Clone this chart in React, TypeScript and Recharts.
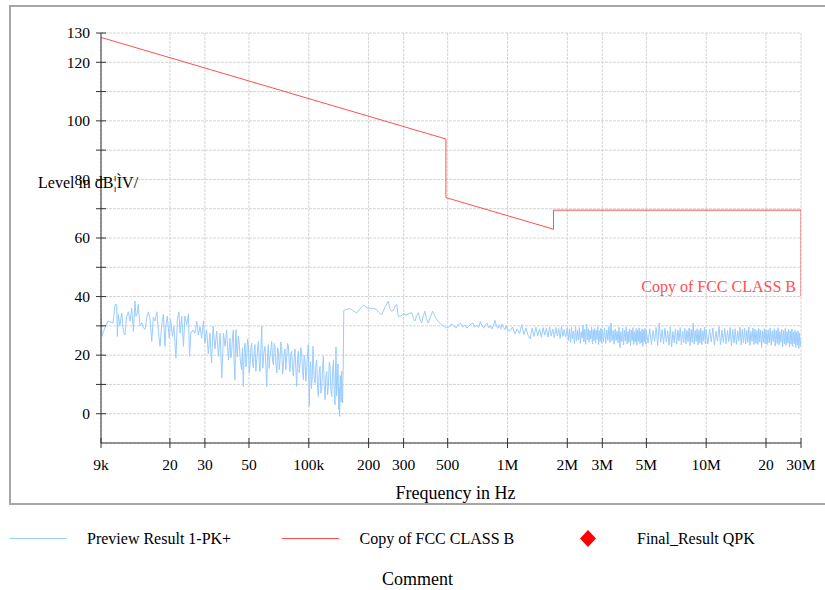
import React from 'react';
import { ComposedChart, Line, XAxis, YAxis, CartesianGrid } from 'recharts';

const FONT = '"Liberation Serif", "Times New Roman", serif';

// x-axis ticks (Hz) and their printed labels
const xTicks = [9e3, 2e4, 3e4, 5e4, 1e5, 2e5, 3e5, 5e5, 1e6, 2e6, 3e6, 5e6, 1e7, 2e7, 3e7];
const xTickLabels = ['9k', '20', '30', '50', '100k', '200', '300', '500', '1M', '2M', '3M', '5M', '10M', '20', '30M'];

// y-axis ticks and which of them carry a label
const yTicks = [0, 10, 20, 30, 40, 50, 60, 70, 80, 90, 100, 110, 120, 130];
const yLabelled = [0, 20, 40, 60, 80, 100, 120, 130];

// Limit line "Copy of FCC CLASS B" (kHz, dBµV)
const limitFreqKHz = [9, 490, 490, 1705, 1705, 30000, 30000];
const limitLevel = [128.5, 93.8, 73.8, 63.0, 69.5, 69.5, 40.0];

// Preview Result 1-PK+ : [kHz, dBµV]
const previewSweepA: [number, number][] = [
  [9.0, 34.4], [9.1, 26.4], [9.43, 29.5], [9.76, 31.6], [10.35, 31.0], [10.59, 37.3], [10.8, 37.3], [10.88, 26.4],
  [11.0, 34.0], [11.2, 30.0], [11.45, 34.4], [11.65, 28.1], [11.88, 26.9], [12.1, 33.0], [12.35, 34.8], [12.6, 31.6],
  [12.85, 36.0], [13.1, 28.1], [13.34, 38.5], [13.5, 33.3], [13.7, 34.4], [13.85, 37.3], [14.15, 30.0], [14.45, 31.1],
  [14.7, 29.3], [15.0, 28.8], [15.3, 33.0], [15.6, 34.8], [15.9, 32.0], [16.2, 24.7], [16.5, 33.0], [16.83, 31.6],
  [17.2, 34.8], [17.5, 28.1], [17.84, 23.0], [18.2, 30.4], [18.55, 34.0], [18.9, 23.0], [19.1, 30.4], [19.4, 33.3],
  [19.85, 25.8], [20.15, 32.2], [20.6, 26.4], [20.95, 29.8], [21.45, 19.0], [21.8, 32.2], [22.2, 34.8], [22.5, 27.5],
  [22.95, 33.3], [23.4, 23.0], [23.8, 33.3], [24.3, 30.4], [24.8, 34.1], [25.1, 19.6], [25.5, 27.5], [26.1, 28.6],
  [26.75, 27.5], [27.3, 31.6], [27.8, 26.9], [28.35, 29.8], [28.9, 25.8], [29.5, 31.7], [30.0, 24.1], [30.6, 28.6],
  [31.2, 20.5], [31.8, 27.5], [32.4, 17.3], [33.0, 29.9], [33.7, 22.1], [34.4, 28.2], [35.1, 19.6], [35.75, 27.5],
  [36.5, 12.2], [37.2, 27.5], [37.9, 23.0], [38.6, 28.6], [39.4, 18.4],
  [40.1, 25.8], [40.5, 19.0], [40.9, 20.6], [41.3, 26.0], [41.7, 28.6], [42.1, 17.5], [42.5, 11.6], [42.75, 24.0],
  [43.0, 28.7], [43.35, 22.0], [43.7, 19.3], [44.15, 26.5], [44.6, 24.5], [45.25, 18.0], [45.9, 15.0], [46.35, 22.5],
  [46.8, 9.3], [47.3, 21.0], [47.8, 24.1], [48.25, 16.0], [48.7, 18.4], [49.2, 25.5], [49.7, 23.0], [50.15, 14.0],
  [50.6, 16.2], [51.1, 22.0], [51.6, 24.1], [52.1, 17.5], [52.6, 15.6], [53.1, 21.5], [53.6, 23.6], [54.15, 14.5],
  [54.7, 18.4], [55.25, 22.5], [55.8, 24.7], [56.3, 17.0], [56.8, 14.4], [57.4, 22.0], [58.0, 29.9], [58.35, 19.0],
  [58.7, 15.6], [59.45, 21.0], [60.2, 23.0], [60.8, 16.5], [61.4, 9.3], [62.0, 20.0], [62.6, 23.6], [63.2, 15.5],
  [63.8, 19.6], [64.45, 22.0], [65.1, 24.7], [65.75, 18.0], [66.4, 16.7], [67.0, 24.0], [67.6, 23.0], [68.3, 17.0],
  [69.0, 13.9], [69.7, 22.5], [70.4, 21.3], [71.0, 15.0], [71.6, 17.8], [72.35, 24.5], [73.1, 23.0], [73.8, 13.5],
  [74.5, 16.2], [75.2, 21.0], [75.9, 22.1], [76.65, 15.0], [77.4, 19.6], [78.2, 24.0], [79.0, 23.1], [79.7, 17.5],
  [80.4, 14.4], [81.2, 20.5], [82.0, 21.3], [82.8, 16.0], [83.6, 12.8], [84.4, 19.0], [85.2, 22.1], [86.05, 15.5],
  [86.9, 9.3], [87.75, 18.5], [88.6, 21.3], [89.45, 14.0], [90.3, 16.7], [91.2, 22.5], [92.1, 20.7], [93.0, 15.0],
  [93.9, 11.6], [94.8, 20.0], [95.7, 18.4], [96.6, 11.0], [97.5, 14.4], [98.45, 20.0], [99.4, 23.6], [100.0, 12.0],
  [100.6, 2.5], [101.4, 15.0], [102.2, 17.8], [103.15, 8.5], [104.1, 12.8], [104.55, 19.0], [105.0, 23.0], [106.25, 13.0],
  [107.5, 10.4], [108.55, 16.5], [109.6, 18.4], [110.65, 9.0], [111.7, 5.9], [112.8, 14.0], [113.9, 16.2], [115.0, 7.0],
  [116.1, 8.2], [117.25, 15.5], [118.4, 19.6], [119.55, 10.0], [120.7, 4.8], [121.9, 12.5], [123.1, 14.4], [124.3, 6.5],
  [125.5, 9.3], [126.7, 17.5], [127.9, 16.7], [129.2, 8.0], [130.5, 5.9], [131.8, 14.5], [133.1, 18.4], [134.3, 7.0],
  [135.5, 3.1], [136.3, 15.0], [137.1, 22.8], [138.1, 6.0], [139.1, 10.4], [140.25, 17.0], [141.4, 1.4], [142.2, 9.0],
  [143.0, -0.9], [143.8, 13.0], [144.6, 11.6], [145.45, 4.0], [146.3, 14.5], [147.15, 8.0], [148.0, 3.7], [148.5, 12.0],
  [149.0, 14.9],
];

const previewSweepB: [number, number][] = [
  [150, 35.3], [155, 35.6], [161, 35.9], [167, 35.2], [174, 34.4], [181, 35.8], [188, 37.1], [196, 36.2],
  [203, 36.0], [212, 36.0], [220, 35.5], [226, 34.5], [233, 33.8], [242, 36.4], [251, 38.4], [256, 36.0],
  [261, 35.0], [266, 35.2], [272, 36.8], [277, 37.3], [282, 33.2], [290, 33.3], [299, 34.0], [311, 33.7],
  [320, 34.2], [330, 34.5], [336, 32.5], [342, 31.6], [349, 33.5], [356, 34.5], [363, 32.0], [370, 31.0],
  [377, 33.5], [384, 35.0], [391, 32.5], [399, 31.0], [409, 33.0], [420, 35.0], [430, 33.5], [440, 32.2],
  [453, 31.0], [467, 30.4], [480, 29.8], [494, 29.3],
];

const previewSweepC: [number, number][] = [
  [505, 29.5], [520, 30.6], [535, 30.2], [550, 29.2], [565, 30.5], [580, 30.9], [595, 29.6], [610, 30.3],
  [625, 29.2], [640, 30.0], [655, 30.6], [670, 31.0], [685, 29.6], [700, 30.2], [715, 29.4], [730, 31.5],
  [745, 30.0], [760, 29.2], [775, 30.5], [790, 30.9], [805, 29.3], [820, 30.0], [835, 28.9], [850, 30.2],
  [865, 31.9], [880, 29.8], [895, 29.2], [910, 30.4], [925, 29.0], [940, 30.6], [955, 29.5], [970, 28.7],
  [985, 30.0], [1000, 28.7],
  [1030, 28.2], [1060, 29.6], [1090, 27.2], [1120, 29.0], [1150, 27.4], [1180, 30.4], [1210, 27.0], [1240, 29.3],
  [1270, 26.8], [1300, 25.5], [1330, 29.2], [1360, 26.4], [1390, 29.5], [1420, 26.6], [1450, 29.0], [1480, 26.1],
  [1510, 29.4], [1540, 26.8], [1570, 29.2], [1600, 26.2], [1630, 29.6], [1660, 26.5], [1690, 28.9], [1720, 26.0],
  [1750, 29.4], [1780, 26.6], [1810, 29.1], [1840, 25.8], [1870, 29.7], [1900, 26.4], [1930, 28.8], [1960, 26.1],
  [2000, 29.3],
];

const previewSweepD: [number, number][] = [
  [2025, 25.0], [2050, 28.9], [2075, 24.3], [2100, 29.5], [2125, 25.6], [2150, 28.2], [2175, 23.9], [2200, 29.8],
  [2225, 24.8], [2250, 28.6], [2275, 25.3], [2300, 29.4], [2325, 24.0], [2350, 28.0], [2375, 25.8], [2400, 30.2],
  [2425, 24.5], [2450, 28.8], [2475, 23.7], [2500, 30.6], [2525, 25.2], [2550, 29.0], [2575, 24.4], [2600, 28.4],
  [2625, 25.5], [2650, 29.6], [2675, 23.8], [2700, 28.7], [2725, 24.9], [2750, 29.1], [2775, 24.2], [2800, 28.5],
  [2825, 25.4], [2850, 29.7], [2875, 23.6], [2900, 28.3], [2925, 24.7], [2950, 29.2], [2975, 24.1], [3000, 28.9],
  [3040, 24.6], [3080, 29.3], [3120, 23.9], [3160, 28.6], [3200, 25.1], [3240, 29.8], [3280, 24.3], [3320, 31.0],
  [3360, 24.8], [3400, 28.4], [3440, 23.7], [3480, 29.0], [3520, 25.0], [3560, 28.2], [3600, 24.2], [3640, 29.5],
  [3680, 22.5], [3720, 28.0], [3760, 24.6], [3800, 29.2], [3840, 23.5], [3880, 28.4], [3920, 24.9], [3960, 29.6],
  [4000, 23.8], [4040, 28.1], [4080, 24.4], [4120, 29.0], [4160, 23.2], [4200, 28.5], [4240, 25.0], [4280, 29.4],
  [4320, 23.6], [4360, 28.0], [4400, 24.5], [4440, 29.1], [4480, 23.4], [4520, 28.6], [4560, 24.8], [4600, 29.3],
  [4640, 23.9], [4680, 28.2], [4720, 24.3], [4760, 29.0], [4800, 23.0], [4840, 28.5], [4880, 24.6], [4920, 29.2],
  [4960, 23.7], [5000, 28.4],
  [5100, 24.1], [5200, 29.0], [5300, 23.6], [5400, 28.4], [5500, 24.7], [5600, 29.5], [5700, 23.3], [5800, 31.0],
  [5900, 24.4], [6000, 28.7], [6100, 23.8], [6200, 29.2], [6300, 24.5], [6400, 28.3], [6500, 23.4], [6600, 29.6],
  [6700, 22.8], [6800, 28.1], [6900, 24.2], [7000, 29.0], [7100, 23.7], [7200, 28.6], [7300, 24.9], [7400, 29.4],
  [7500, 23.5], [7600, 28.2], [7700, 24.3], [7800, 29.1], [7900, 23.9], [8000, 28.5], [8100, 24.6], [8200, 29.3],
  [8300, 23.2], [8400, 28.8], [8500, 24.4], [8600, 31.0], [8700, 23.8], [8800, 28.4], [8900, 24.7], [9000, 29.0],
  [9100, 23.5], [9200, 28.6], [9300, 24.2], [9400, 29.2], [9500, 23.6], [9600, 28.3], [9700, 24.8], [9800, 29.5],
  [9900, 23.9], [10000, 28.7],
];

const previewSweepE: [number, number][] = [
  [10200, 23.8], [10400, 28.9], [10600, 24.5], [10800, 29.3], [11000, 23.4], [11200, 28.2], [11400, 24.8], [11600, 29.8],
  [11800, 23.6], [12000, 28.6], [12200, 24.3], [12400, 29.1], [12600, 23.9], [12800, 28.4], [13000, 24.6], [13200, 29.4],
  [13400, 23.2], [13600, 28.7], [13800, 24.1], [14000, 29.0], [14200, 23.7], [14400, 28.3], [14600, 24.9], [14800, 29.5],
  [15000, 23.5], [15200, 28.8], [15400, 24.2], [15600, 29.2], [15800, 23.8], [16000, 28.5], [16200, 24.4], [16400, 29.6],
  [16600, 23.3], [16800, 28.1], [17000, 24.7], [17200, 29.3], [17400, 23.6], [17600, 28.9], [17800, 24.0], [18000, 28.4],
  [18200, 23.7], [18400, 29.1], [18600, 24.5], [18800, 28.6], [19000, 22.6], [19200, 28.2], [19400, 24.3], [19600, 29.0],
  [19800, 23.9], [20000, 28.5],
  [20250, 23.6], [20500, 28.7], [20750, 24.2], [21000, 29.2], [21250, 23.4], [21500, 28.3], [21750, 24.6], [22000, 29.0],
  [22250, 23.1], [22500, 28.5], [22750, 24.0], [23000, 29.3], [23250, 23.5], [23500, 28.1], [23750, 24.4], [24000, 28.8],
  [24250, 22.9], [24500, 28.4], [24750, 23.8], [25000, 29.1], [25250, 23.3], [25500, 28.0], [25750, 24.1], [26000, 28.7],
  [26250, 22.8], [26500, 28.2], [26750, 23.7], [27000, 28.9], [27250, 23.0], [27500, 27.9], [27750, 23.9], [28000, 28.5],
  [28250, 22.6], [28500, 27.8], [28750, 23.4], [29000, 28.3], [29250, 22.3], [29500, 27.6], [29750, 23.1], [30000, 25.5],
];

const previewData = [...previewSweepA, ...previewSweepB, ...previewSweepC, ...previewSweepD, ...previewSweepE].map(
  ([k, v]) => ({ f: k * 1000, v })
);
const limitData = limitFreqKHz.map((k, i) => ({ f: k * 1000, v: limitLevel[i] }));

const BLUE = '#99ccff';
const RED = '#ff5050';

function YTick(props: any) {
  const { x, y, payload } = props;
  const v = payload.value;
  return (
    <g>
      <line x1={x - 5} x2={x + 5} y1={y} y2={y} stroke="#333" strokeWidth={1} />
      {yLabelled.includes(v) && (
        <text x={x - 11} y={y + 5.3} textAnchor="end" style={{ fontFamily: FONT, fontSize: 15.5 }} fill="#000">
          {v}
        </text>
      )}
    </g>
  );
}

function XTick(props: any) {
  const { x, y, payload } = props;
  const idx = xTicks.indexOf(payload.value);
  const label = idx >= 0 ? xTickLabels[idx] : '';
  return (
    <g>
      <line x1={x} x2={x} y1={y - 5} y2={y + 5} stroke="#333" strokeWidth={1} />
      <text x={x} y={y + 27} textAnchor="middle" style={{ fontFamily: FONT, fontSize: 15.5 }} fill="#000">
        {label}
      </text>
    </g>
  );
}

const txt = (size: number) => ({ fontFamily: FONT, fontSize: size });

export default function App() {
  return (
    <div style={{ position: 'absolute', left: 0, top: 0, width: 825, height: 590, background: '#fff', fontFamily: FONT }}>
      <ComposedChart width={825} height={590} margin={{ top: 33, right: 24, bottom: 117, left: 41 }}>
        <CartesianGrid stroke="#d4d4d4" strokeDasharray="3 1" />
        <XAxis
          type="number"
          dataKey="f"
          scale="log"
          domain={[9000, 30000000]}
          allowDataOverflow
          ticks={xTicks}
          interval={0}
          tick={<XTick />}
          tickLine={false}
          tickSize={0}
          tickMargin={0}
          height={30}
          axisLine={{ stroke: '#333' }}
        />
        <YAxis
          type="number"
          domain={[-10, 130]}
          allowDataOverflow
          ticks={yTicks}
          interval={0}
          tick={<YTick />}
          tickLine={false}
          tickSize={0}
          tickMargin={0}
          width={60}
          axisLine={{ stroke: '#333' }}
        />
        <Line
          data={previewData}
          dataKey="v"
          type="linear"
          stroke={BLUE}
          strokeWidth={1}
          dot={false}
          activeDot={false}
          isAnimationActive={false}
        />
        <Line
          data={limitData}
          dataKey="v"
          type="linear"
          stroke={RED}
          strokeWidth={1}
          dot={false}
          activeDot={false}
          isAnimationActive={false}
        />
      </ComposedChart>
      <svg width={825} height={590} style={{ position: 'absolute', left: 0, top: 0, pointerEvents: 'none' }}>
        <polyline points="830,6 10,6 10,504 830,504" fill="none" stroke="#a6a6a6" strokeWidth={2} />
        <text x={38} y={188} style={txt(16)} fill="#000">Level in dB¦ÌV/</text>
        <text x={796} y={292} textAnchor="end" style={txt(16)} fill={RED}>Copy of FCC CLASS B</text>
        <text x={455.5} y={498.5} textAnchor="middle" style={txt(18)} fill="#000">Frequency in Hz</text>
        <line x1={9.5} x2={67} y1={538.5} y2={538.5} stroke={BLUE} strokeWidth={1} />
        <text x={87} y={544} style={txt(16)} fill="#000">Preview Result 1-PK+</text>
        <line x1={282} x2={339} y1={538.5} y2={538.5} stroke={RED} strokeWidth={1} />
        <text x={359.5} y={544} style={txt(16)} fill="#000">Copy of FCC CLASS B</text>
        <polygon points="588,530 596,538.5 588,547 580,538.5" fill="#ff0000" />
        <text x={637} y={544} style={txt(16)} fill="#000">Final_Result QPK</text>
        <text x={417.5} y={585} textAnchor="middle" style={txt(18)} fill="#000">Comment</text>
      </svg>
    </div>
  );
}
